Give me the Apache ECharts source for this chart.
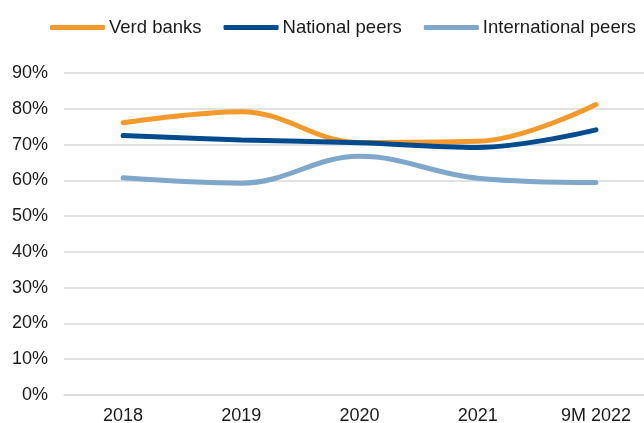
<!DOCTYPE html>
<html><head><meta charset="utf-8">
<script src="https://cdn.jsdelivr.net/npm/echarts@6/dist/echarts.min.js"></script>
<style>html,body{margin:0;padding:0;background:#fff}#c{width:644px;height:423px}</style>
</head><body><div id="c"></div>
<script>
const categories = ['2018', '2019', '2020', '2021', '9M 2022'];
const verdBanks = [76.1, 79.2, 70.6, 70.9, 81.2];
const nationalPeers = [72.5, 71.3, 70.5, 69.2, 74.1];
const internationalPeers = [60.7, 59.2, 66.7, 60.6, 59.4];
const yTicks = { min: 0, max: 90, interval: 10 };

const font = '"Liberation Sans", Arial, sans-serif';
const chart = echarts.init(document.getElementById('c'));
function ser(name, data, color) {
  return { name, type: 'line', data, smooth: 0.38, symbol: 'none',
    lineStyle: { color, width: 5, cap: 'round' }, itemStyle: { color } };
}
chart.setOption({
  animation: false,
  legend: { top: 13, left: 45, itemWidth: 55, itemHeight: 5, itemGap: 22, icon: 'roundRect',
    textStyle: { fontFamily: font, fontSize: 18.5, color: '#1a1a1a', padding: [0, 0, 0, -1] },
    data: ['Verd banks', 'National peers', 'International peers'] },
  grid: { left: 64, width: 591, top: 73, bottom: 28, containLabel: false, outerBoundsMode: 'none' },
  xAxis: { type: 'category', data: categories, boundaryGap: true,
    axisLine: { show: true, lineStyle: { color: '#d9d9d9', width: 1.5 } },
    axisTick: { show: false },
    axisLabel: { fontFamily: font, fontSize: 18, color: '#1a1a1a', margin: 12 } },
  yAxis: { type: 'value', min: yTicks.min, max: yTicks.max, interval: yTicks.interval,
    axisLine: { show: false }, axisTick: { show: false },
    splitLine: { lineStyle: { color: '#d9d9d9', width: 1.5 } },
    axisLabel: { fontFamily: font, fontSize: 18, color: '#1a1a1a', margin: 16, formatter: '{value}%' } },
  series: [
    ser('Verd banks', verdBanks, '#F39A2C'),
    ser('National peers', nationalPeers, '#004B8D'),
    ser('International peers', internationalPeers, '#7FA7CA')
  ]
});
</script></body></html>
